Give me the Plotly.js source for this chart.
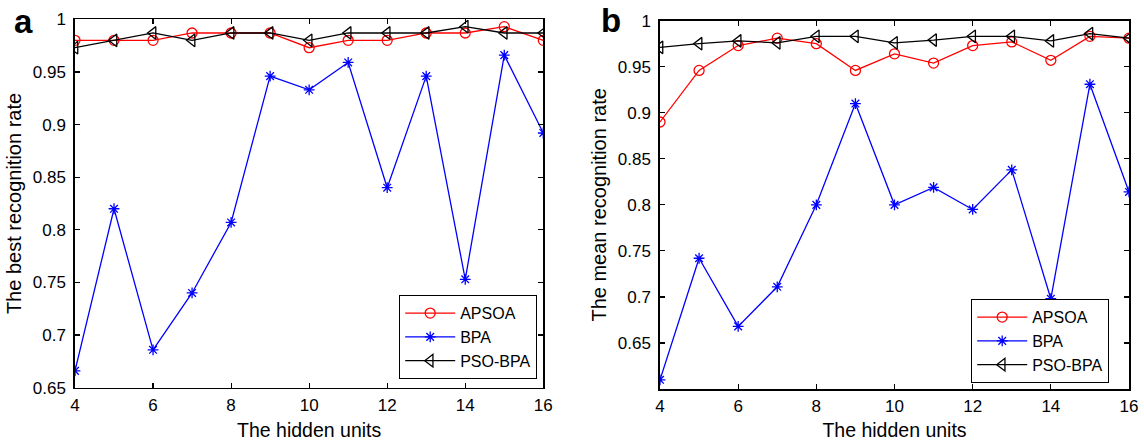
<!DOCTYPE html>
<html>
<head>
<meta charset="utf-8">
<script src="https://cdn.plot.ly/plotly-3.0.1.min.js"></script>
<style>html,body{margin:0;padding:0;background:#fff;}#chart{width:1144px;height:441px;}</style>
</head>
<body>
<div id="chart"></div>
<script>
// hidden units (x)
const hiddenUnits = [4, 5, 6, 7, 8, 9, 10, 11, 12, 13, 14, 15, 16];

// panel a: best recognition rate
const bestAPSOA  = [0.980, 0.980, 0.980, 0.987, 0.987, 0.987, 0.973, 0.980, 0.980, 0.987, 0.987, 0.993, 0.980];
const bestBPA    = [0.666, 0.820, 0.686, 0.740, 0.807, 0.946, 0.933, 0.959, 0.840, 0.946, 0.753, 0.966, 0.892];
const bestPSOBPA = [0.973, 0.980, 0.987, 0.980, 0.987, 0.987, 0.980, 0.987, 0.987, 0.987, 0.993, 0.987, 0.987];

// panel b: mean recognition rate
const meanAPSOA  = [0.890, 0.946, 0.973, 0.981, 0.975, 0.946, 0.964, 0.954, 0.973, 0.977, 0.957, 0.983, 0.981];
const meanBPA    = [0.610, 0.742, 0.668, 0.711, 0.800, 0.910, 0.800, 0.819, 0.795, 0.838, 0.698, 0.931, 0.814];
const meanPSOBPA = [0.971, 0.975, 0.978, 0.976, 0.983, 0.983, 0.976, 0.979, 0.983, 0.983, 0.978, 0.986, 0.981];

// tick labels
const xTickVals = [4, 6, 8, 10, 12, 14, 16];
const xTickText = ['4', '6', '8', '10', '12', '14', '16'];
const yTickValsA = [0.65, 0.7, 0.75, 0.8, 0.85, 0.9, 0.95, 1];
const yTickTextA = ['0.65', '0.7', '0.75', '0.8', '0.85', '0.9', '0.95', '1'];
const yTickValsB = [0.65, 0.7, 0.75, 0.8, 0.85, 0.9, 0.95, 1];
const yTickTextB = ['0.65', '0.7', '0.75', '0.8', '0.85', '0.9', '0.95', '1'];

const seriesNames = ['APSOA', 'BPA', 'PSO-BPA'];
const FONT = 'Liberation Sans, Arial, Helvetica, sans-serif';
const W = 1144, H = 441;

const styles = [
  {color: '#ff0000', symbol: 'circle-open', size: 10},
  {color: '#0000ff', symbol: 'asterisk-open', size: 9},
  {color: '#000000', symbol: 'triangle-left-open', size: 11}
];

function mk(y, i, xa, ya, leg) {
  return {
    x: hiddenUnits, y: y, type: 'scatter', mode: 'lines+markers',
    name: seriesNames[i], xaxis: xa, yaxis: ya, legend: leg,
    line: {color: styles[i].color, width: 1.3},
    marker: {symbol: styles[i].symbol, size: styles[i].size, color: styles[i].color,
             line: {color: styles[i].color, width: 1.3}}
  };
}

const data = [
  mk(bestAPSOA, 0, 'x', 'y', 'legend'),
  mk(bestBPA, 1, 'x', 'y', 'legend'),
  mk(bestPSOBPA, 2, 'x', 'y', 'legend'),
  mk(meanAPSOA, 0, 'x2', 'y2', 'legend2'),
  mk(meanBPA, 1, 'x2', 'y2', 'legend2'),
  mk(meanPSOBPA, 2, 'x2', 'y2', 'legend2')
];

const axCommon = {
  showline: true, linecolor: '#000', linewidth: 1.7, mirror: 'ticks',
  ticks: 'inside', ticklen: 5, tickwidth: 1.2, tickcolor: '#000',
  showgrid: false, zeroline: false, automargin: false,
  tickfont: {family: FONT, size: 17, color: '#000'}
};

const xTitle = {text: 'The hidden units', font: {family: FONT, size: 19.5, color: '#000'}, standoff: 9};
const legendFont = {family: FONT, size: 16, color: '#000'};

const layout = {
  width: W, height: H,
  margin: {l: 0, r: 0, t: 0, b: 0},
  paper_bgcolor: '#fff', plot_bgcolor: '#fff',
  font: {family: FONT, color: '#000'},
  xaxis: Object.assign({}, axCommon, {
    domain: [75 / W, 543.3 / W], anchor: 'y', range: [4, 16],
    tickvals: xTickVals, ticktext: xTickText, ticklabelstandoff: 1, title: xTitle
  }),
  yaxis: Object.assign({}, axCommon, {
    domain: [1 - 387.7 / H, 1 - 19.3 / H], anchor: 'x', range: [0.65, 1],
    tickvals: yTickValsA, ticktext: yTickTextA, ticklabelstandoff: 4,
    title: {text: 'The best recognition rate', font: {family: FONT, size: 20, color: '#000'}, standoff: 6}
  }),
  xaxis2: Object.assign({}, axCommon, {
    domain: [660 / W, 1129 / W], anchor: 'y2', range: [4, 16],
    tickvals: xTickVals, ticktext: xTickText, ticklabelstandoff: 1, title: xTitle
  }),
  yaxis2: Object.assign({}, axCommon, {
    domain: [1 - 389 / H, 1 - 20.7 / H], anchor: 'x2', range: [0.6, 1],
    tickvals: yTickValsB, ticktext: yTickTextB, ticklabelstandoff: 4,
    title: {text: 'The mean recognition rate', font: {family: FONT, size: 20, color: '#000'}, standoff: 6}
  }),
  legend: {
    x: 537 / W, y: 1 - 379 / H, xanchor: 'right', yanchor: 'bottom',
    bgcolor: '#fff', bordercolor: '#000', borderwidth: 1.2,
    font: legendFont, itemwidth: 50, tracegroupgap: 0
  },
  legend2: {
    x: 1109 / W, y: 1 - 383 / H, xanchor: 'right', yanchor: 'bottom',
    bgcolor: '#fff', bordercolor: '#000', borderwidth: 1.2,
    font: legendFont, itemwidth: 50, tracegroupgap: 0
  },
  annotations: [
    {text: '<b>a</b>', xref: 'paper', yref: 'paper', x: 23 / W, y: 1 - 22 / H,
     xanchor: 'center', yanchor: 'middle', showarrow: false, font: {family: FONT, size: 33, color: '#000'}},
    {text: '<b>b</b>', xref: 'paper', yref: 'paper', x: 611 / W, y: 1 - 20 / H,
     xanchor: 'center', yanchor: 'middle', showarrow: false, font: {family: FONT, size: 33, color: '#000'}}
  ],
  showlegend: true
};

Plotly.newPlot('chart', data, layout, {staticPlot: true, displayModeBar: false});
</script>
</body>
</html>
